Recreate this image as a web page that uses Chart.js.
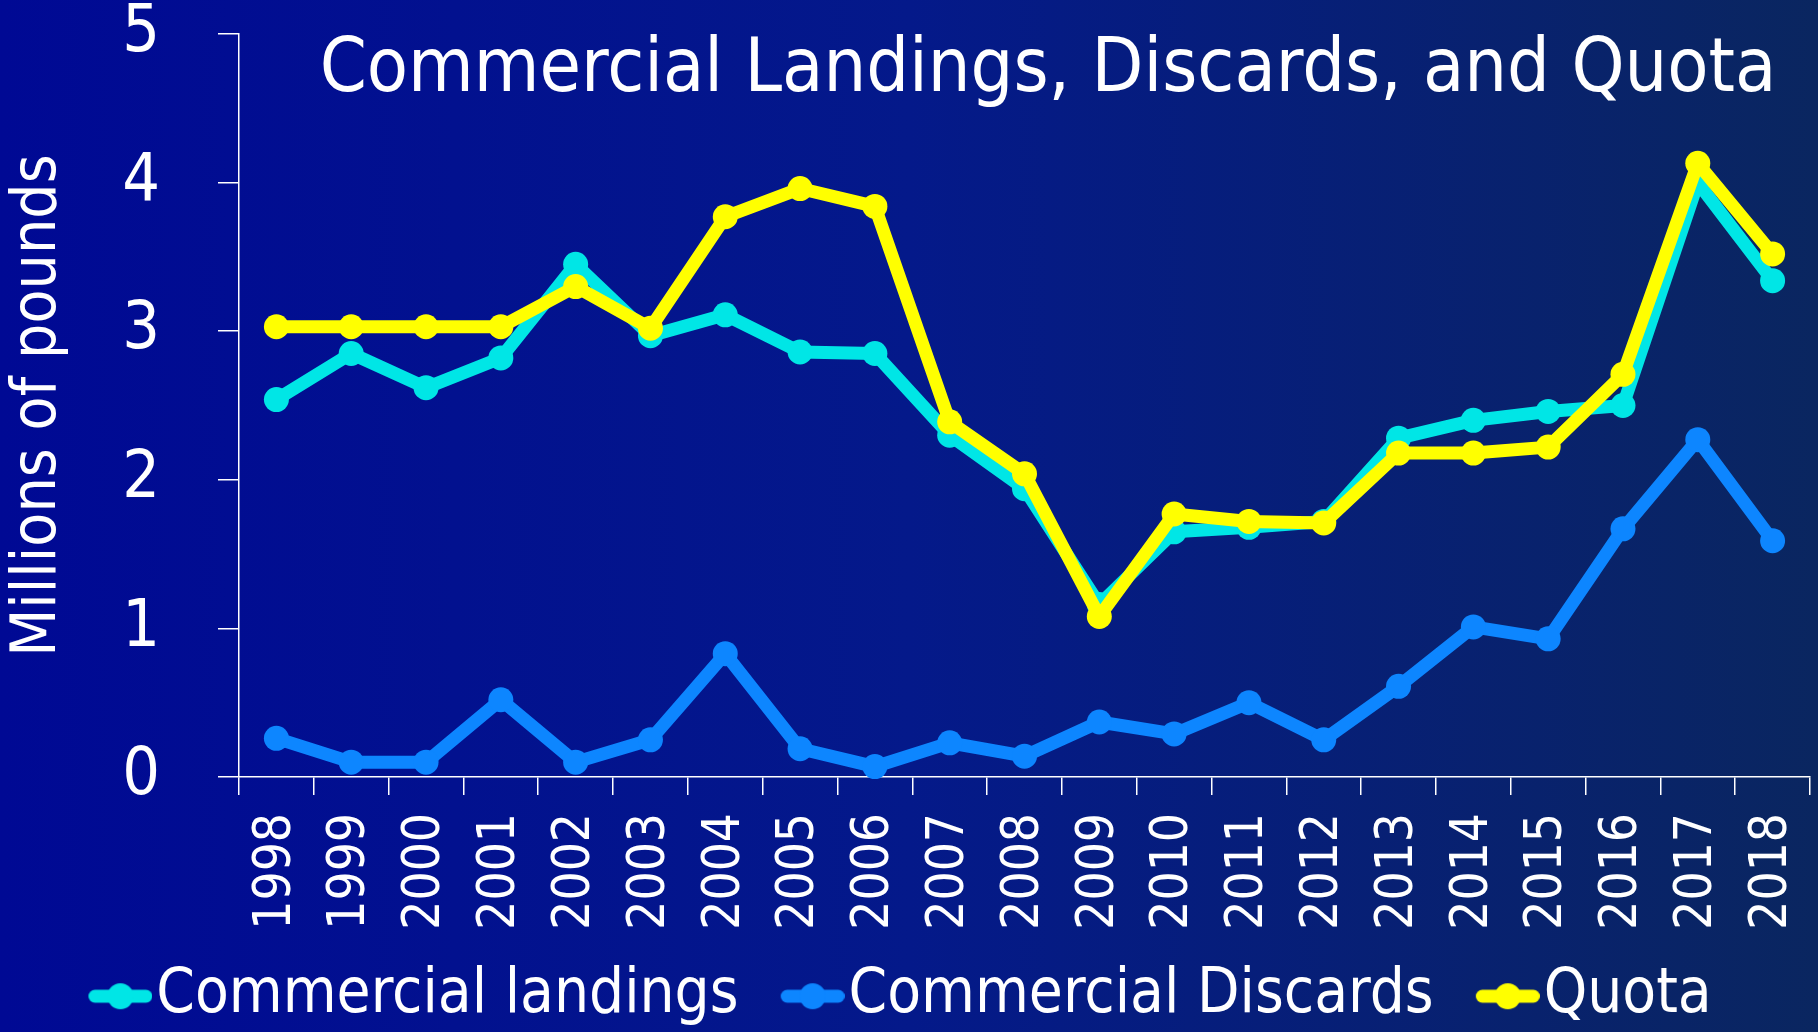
<!DOCTYPE html>
<html><head><meta charset="utf-8">
<script src="https://cdn.jsdelivr.net/npm/chart.js@4.4.0/dist/chart.umd.min.js"></script>
<style>
html,body{margin:0;padding:0;width:1818px;height:1032px;overflow:hidden;
background:linear-gradient(to right,#000994 0%,#04198a 50%,#0a2660 100%);}
canvas{display:block}
</style></head><body>
<canvas id="c" width="1818" height="1032"></canvas>
<script>
const years = ['1998','1999','2000','2001','2002','2003','2004','2005','2006','2007','2008','2009','2010','2011','2012','2013','2014','2015','2016','2017','2018'];
const landings = [2.54, 2.85, 2.62, 2.82, 3.45, 2.97, 3.11, 2.86, 2.85, 2.30, 1.94, 1.16, 1.65, 1.68, 1.72, 2.28, 2.40, 2.46, 2.50, 4.00, 3.34];
const discards = [0.26, 0.10, 0.10, 0.52, 0.10, 0.25, 0.83, 0.19, 0.07, 0.23, 0.14, 0.37, 0.29, 0.50, 0.25, 0.61, 1.01, 0.93, 1.67, 2.27, 1.59];
const quota    = [3.03, 3.03, 3.03, 3.03, 3.30, 3.02, 3.77, 3.96, 3.84, 2.39, 2.04, 1.08, 1.77, 1.72, 1.71, 2.18, 2.18, 2.22, 2.71, 4.13, 3.52];
const yTicks = [0, 1, 2, 3, 4, 5];
const seriesNames = ['Commercial landings', 'Commercial Discards', 'Quota'];
const chartTitle = 'Commercial Landings, Discards, and Quota';
const yAxisTitle = 'Millions of pounds';
const colors = ['#00e6e6', '#0d86ff', '#ffff00'];

const FONT = "'DejaVu Sans Condensed', 'DejaVu Sans', sans-serif";

// legend symbol: short thick line with a dot, drawn at the right end of a transparent strip
function legendMarker(color) {
  const c = document.createElement('canvas');
  c.width = 99; c.height = 30;
  const g = c.getContext('2d');
  g.strokeStyle = color; g.lineWidth = 13; g.lineCap = 'round';
  g.beginPath(); g.moveTo(41.5, 15); g.lineTo(92.5, 15); g.stroke();
  g.fillStyle = color; g.beginPath(); g.arc(67, 15, 13, 0, Math.PI * 2); g.fill();
  return c;
}
const markers = colors.map(legendMarker);

const titlePlugin = {
  id: 'overlayTitle',
  afterDraw(chart) {
    const ctx = chart.ctx;
    ctx.save();
    ctx.font = '75px ' + FONT;
    ctx.fillStyle = '#ffffff';
    ctx.textAlign = 'center';
    ctx.textBaseline = 'alphabetic';
    ctx.fillText(chartTitle, 1048, 91);
    ctx.restore();
  }
};

function ds(i, data, order) {
  return {
    label: seriesNames[i], data: data, order: order,
    borderColor: colors[i], backgroundColor: colors[i],
    pointBackgroundColor: colors[i], pointBorderColor: colors[i]
  };
}

new Chart(document.getElementById('c'), {
  type: 'line',
  data: {
    labels: years,
    datasets: [ds(0, landings, 2), ds(1, discards, 3), ds(2, quota, 1)]
  },
  options: {
    responsive: false, animation: false, devicePixelRatio: 1,
    layout: { autoPadding: false, padding: { top: 34, right: 8, left: -18, bottom: -5 } },
    elements: {
      line: { borderWidth: 13, tension: 0, borderJoinStyle: 'round', borderCapStyle: 'round', fill: false },
      point: { radius: 12.5, hoverRadius: 12.5, borderWidth: 0 }
    },
    datasets: { line: { clip: false } },
    scales: {
      x: {
        offset: true,
        border: { display: true, color: '#ffffff', width: 1.5 },
        grid: { display: true, offset: true, drawOnChartArea: false, drawTicks: true, tickLength: 18, color: '#ffffff', lineWidth: 1.5 },
        ticks: { color: '#ffffff', font: { family: FONT, size: 51 }, maxRotation: 90, minRotation: 90, padding: 18, autoSkip: false },
        afterFit: (s) => { s.height = 154.5; s.paddingLeft = 0; s.paddingRight = 0; }
      },
      y: {
        min: 0, max: 5,
        border: { display: true, color: '#ffffff', width: 1.5 },
        grid: { drawOnChartArea: false, tickLength: 21, color: '#ffffff', lineWidth: 1.5 },
        ticks: { stepSize: 1, color: '#ffffff', font: { family: FONT, size: 66, lineHeight: 1 }, padding: 58 },
        afterBuildTicks: (s) => { s.ticks = yTicks.map(v => ({ value: v })); },
        title: { display: true, text: yAxisTitle, color: '#ffffff', font: { family: FONT, size: 62 }, padding: { top: 20, bottom: 0 } },
        afterFit: (s) => { s.width = 257; s.paddingTop = 0; s.paddingBottom = 0; }
      }
    },
    plugins: {
      legend: {
        position: 'bottom',
        labels: {
          usePointStyle: true, pointStyleWidth: 45.25, padding: 34, color: '#ffffff',
          font: { family: FONT, size: 61.5 },
          generateLabels: (chart) => chart.data.datasets.map((d, i) => ({
            text: d.label, pointStyle: markers[i], fillStyle: d.borderColor, strokeStyle: d.borderColor,
            lineWidth: 0, hidden: false, datasetIndex: i, fontColor: '#ffffff'
          }))
        }
      },
      tooltip: { enabled: false },
      title: { display: false }
    }
  },
  plugins: [titlePlugin]
});
</script>
</body></html>
